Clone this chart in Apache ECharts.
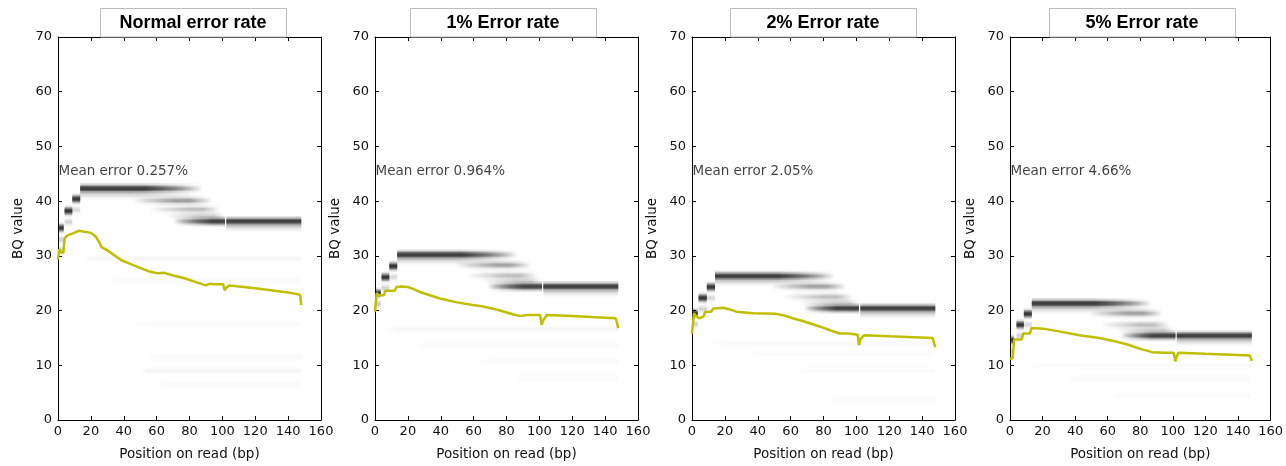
<!DOCTYPE html>
<html>
<head>
<meta charset="utf-8">
<title>BQ value by position on read</title>
<script src="https://cdn.jsdelivr.net/npm/echarts@6/dist/echarts.min.js"></script>
<style>
  html, body { margin: 0; padding: 0; background: #fff; }
  #main { width: 1286px; height: 466px; }
</style>
</head>
<body>
<div id="main"></div>
<script>
const panelTitles = ['Normal error rate', '1% Error rate', '2% Error rate', '5% Error rate'];
const meanErrors = ['0.257%', '0.964%', '2.05%', '4.66%'];

// heat bands: [xStart, xFullStart, xFullEnd, xEnd, BQ, density]
const bandsNormal = [
  [0.5, 0.5, 3.5, 3.5, 35.1, 0.85], [0.5, 0.5, 3.5, 3.5, 33, 0.12], [0.5, 0.5, 3.5, 3.5, 31, 0.15],
  [4, 4, 8.7, 8.7, 38.2, 0.9], [4, 4, 8.7, 8.7, 36.2, 0.12],
  [8.7, 8.7, 13.5, 13.5, 40.4, 0.9], [8.7, 8.7, 13.5, 13.5, 38.4, 0.1],
  [13.5, 13.5, 52, 88, 42.3, 0.85], [13.5, 13.5, 50, 85, 41.2, 0.1],
  [45, 72, 80, 94, 40.1, 0.3], [55, 80, 88, 99, 38.5, 0.18], [65, 85, 95, 101, 37.3, 0.12],
  [70, 94, 101.6, 101.6, 36.3, 0.8], [102.4, 102.4, 148, 148, 36.3, 0.82], [102.4, 102.4, 148, 148, 35.3, 0.1],
  [15, 20, 148, 148, 29.5, 0.018], [30, 40, 148, 148, 25.5, 0.015], [40, 60, 148, 148, 17.5, 0.012],
  [50, 60, 148, 148, 11.5, 0.015], [50, 55, 148, 148, 9, 0.025], [60, 70, 148, 148, 6.5, 0.012]
];
const bands1 = [
  [0.5, 0.5, 3.5, 3.5, 23.2, 0.85], [0.5, 0.5, 3.5, 3.5, 21.2, 0.15],
  [4, 4, 8.7, 8.7, 26.1, 0.9], [4, 4, 8.7, 8.7, 24.1, 0.12],
  [8.7, 8.7, 13.5, 13.5, 28.1, 0.9], [8.7, 8.7, 13.5, 13.5, 26.1, 0.1],
  [13.5, 13.5, 52, 87, 30.2, 0.85], [13.5, 13.5, 50, 85, 29.2, 0.1],
  [48, 74, 82, 95, 28.3, 0.28], [55, 80, 88, 99, 26.4, 0.18], [65, 86, 95, 101, 25.4, 0.12],
  [68, 90, 101.6, 101.6, 24.4, 0.8], [102.4, 102.4, 148, 148, 24.4, 0.82], [102.4, 102.4, 148, 148, 23.4, 0.1],
  [5, 15, 148, 148, 16.5, 0.018], [23, 30, 148, 148, 13.6, 0.015], [60, 70, 148, 148, 10.7, 0.015], [84, 90, 148, 148, 7.6, 0.015]
];
const bands2 = [
  [0.5, 0.5, 3.5, 3.5, 19.5, 0.85], [0.5, 0.5, 3.5, 3.5, 17.5, 0.12],
  [4, 4, 9, 9, 22.3, 0.9], [4, 4, 9, 9, 20.3, 0.12],
  [9, 9, 14, 14, 24.3, 0.9], [9, 9, 14, 14, 22.3, 0.1],
  [14, 14, 52, 87, 26.3, 0.85], [14, 14, 50, 85, 25.3, 0.1],
  [48, 72, 82, 94, 24.4, 0.28], [55, 80, 88, 98, 22.5, 0.18], [65, 86, 95, 101, 21.4, 0.12],
  [68, 88, 101.6, 101.6, 20.4, 0.8], [102.4, 102.4, 148, 148, 20.4, 0.82], [102.4, 102.4, 148, 148, 19.4, 0.1],
  [10, 20, 148, 148, 14, 0.015], [30, 40, 148, 148, 12, 0.015], [60, 70, 148, 148, 9, 0.015], [80, 90, 148, 148, 4, 0.015]
];
const bands5 = [
  [0, 0, 2.5, 2.5, 14.6, 0.85], [0, 0, 2.5, 2.5, 12.6, 0.12],
  [4, 4, 8.5, 8.5, 17.4, 0.9], [4, 4, 8.5, 8.5, 15.4, 0.12],
  [8.5, 8.5, 13.4, 13.4, 19.4, 0.9], [8.5, 8.5, 13.4, 13.4, 17.4, 0.1],
  [13.4, 13.4, 52, 87, 21.3, 0.85], [13.4, 13.4, 50, 85, 20.3, 0.1],
  [48, 72, 82, 94, 19.5, 0.28], [55, 80, 88, 98, 17.4, 0.18], [65, 86, 95, 101, 16.4, 0.12],
  [68, 88, 101.6, 101.6, 15.4, 0.8], [102.4, 102.4, 148.5, 148.5, 15.4, 0.82], [102.4, 102.4, 148.5, 148.5, 14.4, 0.1],
  [10, 20, 148, 148, 10, 0.015], [30, 40, 148, 148, 7.5, 0.015], [60, 70, 148, 148, 4.5, 0.015]
];

// mean BQ by position: [position (bp), BQ]
const meanNormal = [
  [0, 29.3], [0.7, 31.2], [2, 30.6], [3.3, 30.6], [4, 33.2], [6, 33.8], [9, 34.1], [13, 34.6], [16, 34.4],
  [20, 34.2], [23, 33.5], [25, 32.5], [26.5, 31.6], [30, 31], [38.6, 29.2], [45, 28.4], [50.7, 27.7],
  [55, 27.2], [60.8, 26.8], [64.8, 26.9], [70, 26.4], [77, 25.9], [83, 25.3], [90, 24.6], [92, 24.9],
  [95, 24.8], [100.5, 24.8], [101.3, 23.7], [102.5, 24.2], [104.2, 24.6], [120, 24.1], [140, 23.3],
  [146, 23.0], [147.3, 22.8], [148, 21]
];
const mean1 = [
  [0, 19.8], [0.6, 19.9], [1, 23.2], [2, 22.8], [5.5, 22.8], [6.2, 23.6], [12, 23.6], [13, 24.3], [16, 24.4],
  [20, 24.3], [22, 24.1], [27.3, 23.4], [39.4, 22.2], [50, 21.5], [59.4, 21], [65, 20.8], [75, 20.1],
  [85.3, 19.2], [89, 19], [92, 19.2], [100.5, 19.2], [101.4, 17.4], [102.3, 18.2], [104.5, 19.2],
  [120, 19], [140, 18.7], [146.5, 18.6], [148, 16.8]
];
const mean2 = [
  [0, 15.8], [0.8, 15.9], [1.2, 19.5], [2.5, 19], [4.4, 18.6], [7, 18.9], [8, 19.8], [11.7, 19.8], [13, 20.4],
  [18.9, 20.5], [22, 20.3], [27, 19.8], [37, 19.5], [51.3, 19.4], [56, 19.1], [61.3, 18.6], [67.3, 18.1],
  [77.6, 17.1], [84, 16.4], [89.7, 15.8], [95, 15.8], [100.8, 15.6], [101.6, 13.7], [102.5, 14.8],
  [104.8, 15.5], [120, 15.3], [146.3, 15], [148, 13.3]
];
const mean5 = [
  [0, 11.2], [1.6, 11.3], [2.6, 14.7], [7.1, 14.7], [8.1, 15.8], [12.2, 15.8], [13.2, 16.8], [20.3, 16.7],
  [30, 16.2], [42.6, 15.5], [55, 15], [62.9, 14.5], [73.1, 13.7], [80, 13], [87.3, 12.4], [95, 12.3],
  [100.5, 12.3], [101.5, 10.7], [102.3, 11.6], [103.5, 12.3], [120, 12.1], [140, 11.9], [147.2, 11.8],
  [148.5, 10.8]
];

const allBands = [bandsNormal, bands1, bands2, bands5];
const allMeans = [meanNormal, mean1, mean2, mean5];

const gridLefts = [58, 375, 692, 1010];
const boxLefts = [100, 410, 730, 1049];
const tickFont = 'DejaVu Sans';

function gray(o) {
  return 'rgba(25,25,25,' + o.toFixed(3) + ')';
}

// each band drawn as a few stacked rects so it looks blurred
function renderBand(params, api) {
  const x0 = api.value(0), xa = api.value(1), xb = api.value(2), x1 = api.value(3);
  const bq = api.value(4), d = api.value(5);
  const span = x1 - x0;
  const layers = [[1.0, 0.15], [0.7, 0.35], [0.45, 0.55], [0.25, 0.6]];
  const children = layers.map(function (l) {
    const tl = api.coord([x0, bq + l[0]]);
    const br = api.coord([x1, bq - l[0]]);
    const a = d * l[1];
    return {
      type: 'rect',
      shape: { x: tl[0], y: tl[1], width: br[0] - tl[0], height: br[1] - tl[1] },
      style: {
        fill: {
          type: 'linear', x: 0, y: 0, x2: 1, y2: 0,
          colorStops: [
            { offset: 0, color: gray(xa > x0 ? 0 : a) },
            { offset: (xa - x0) / span, color: gray(a) },
            { offset: (xb - x0) / span, color: gray(a) },
            { offset: 1, color: gray(x1 > xb ? 0 : a) }
          ]
        }
      }
    };
  });
  return { type: 'group', children: children };
}

const grids = [], xAxes = [], yAxes = [], series = [], graphics = [];
const axisLine = { show: true, onZero: false, lineStyle: { color: '#000', width: 1 } };
const axisTick = { show: true, inside: true, length: 4, lineStyle: { color: '#000' } };

for (let i = 0; i < 4; i++) {
  grids.push({ left: gridLefts[i], top: 37, width: 263, height: 385 });
  xAxes.push({
    gridIndex: i, type: 'value', position: 'bottom', min: 0, max: 160, interval: 20,
    axisLine: axisLine, axisTick: axisTick, splitLine: { show: false },
    axisLabel: { color: '#111', fontSize: 13, fontFamily: tickFont, margin: 5 },
    name: 'Position on read (bp)', nameLocation: 'middle', nameGap: 27,
    nameTextStyle: { color: '#111', fontSize: 13.5, fontFamily: tickFont }
  });
  xAxes.push({
    gridIndex: i, type: 'value', position: 'top', min: 0, max: 160, interval: 20,
    axisLine: axisLine, axisTick: axisTick, splitLine: { show: false }, axisLabel: { show: false }
  });
  yAxes.push({
    gridIndex: i, type: 'value', position: 'left', min: 0, max: 70, interval: 10,
    axisLine: axisLine, axisTick: axisTick, splitLine: { show: false },
    axisLabel: { color: '#111', fontSize: 13, fontFamily: tickFont, margin: 6 },
    name: 'BQ value', nameLocation: 'middle', nameGap: 33,
    nameTextStyle: { color: '#111', fontSize: 13.5, fontFamily: tickFont }
  });
  yAxes.push({
    gridIndex: i, type: 'value', position: 'right', min: 0, max: 70, interval: 10,
    axisLine: axisLine, axisTick: axisTick, splitLine: { show: false }, axisLabel: { show: false }
  });

  series.push({
    type: 'custom', xAxisIndex: 2 * i, yAxisIndex: 2 * i,
    data: allBands[i], encode: { x: [0, 3], y: 4 },
    renderItem: renderBand, clip: true, silent: true, z: 1
  });
  series.push({
    type: 'line', xAxisIndex: 2 * i, yAxisIndex: 2 * i,
    data: allMeans[i], showSymbol: false, silent: true,
    lineStyle: { color: '#bfbf00', width: 2.5 }, z: 3
  });
  series.push({
    type: 'scatter', xAxisIndex: 2 * i, yAxisIndex: 2 * i,
    data: [[0.3, 45.5]], symbolSize: 0, silent: true, z: 4,
    label: {
      show: true, position: 'right', distance: 0,
      formatter: 'Mean error ' + meanErrors[i],
      color: '#111', fontSize: 13.5, fontFamily: tickFont
    }
  });

  graphics.push({
    type: 'rect', z: 10,
    shape: { x: boxLefts[i] + 0.5, y: 8.5, width: 186, height: 28.5 },
    style: { fill: '#fff', stroke: '#bdbdbd', lineWidth: 1 }
  });
  graphics.push({
    type: 'text', z: 11, x: boxLefts[i] + 93, y: 23,
    style: {
      text: panelTitles[i], align: 'center', verticalAlign: 'middle',
      font: 'bold 18px "Liberation Sans", Arial, sans-serif', fill: '#000'
    }
  });
}

const chart = echarts.init(document.getElementById('main'));
chart.setOption({
  animation: false,
  backgroundColor: '#fff',
  grid: grids,
  xAxis: xAxes,
  yAxis: yAxes,
  series: series,
  graphic: graphics
});
</script>
</body>
</html>
